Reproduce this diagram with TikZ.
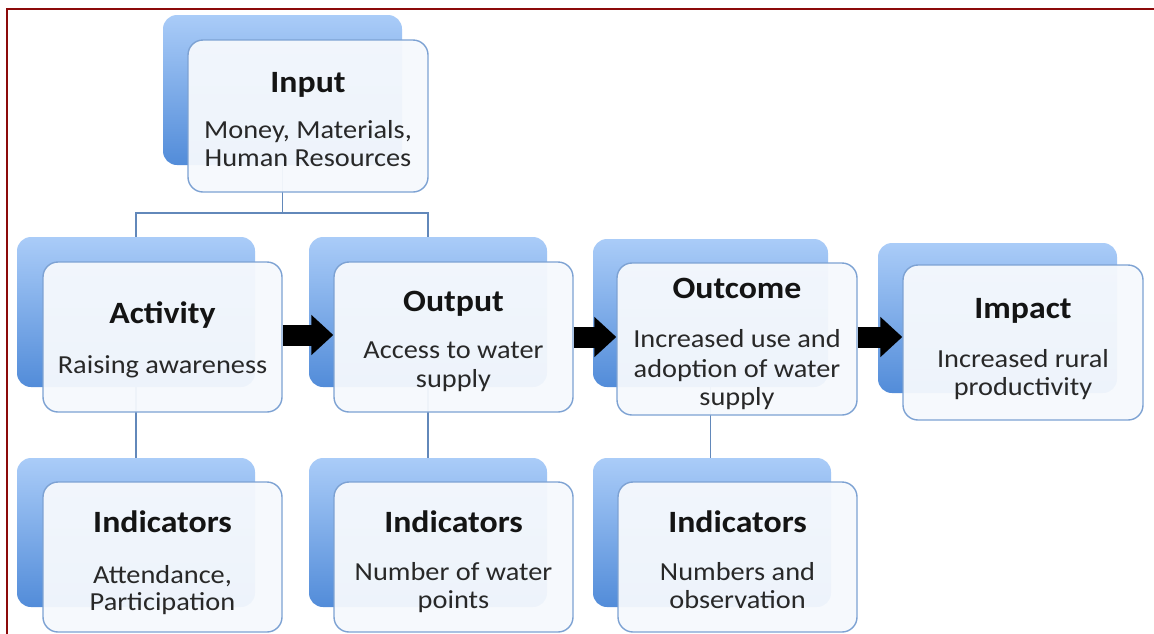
\documentclass[tikz,border=0pt]{standalone}
\usepackage{fontspec}
\setmainfont{Carlito}[FakeStretch=1.09]
\usetikzlibrary{arrows.meta}
\definecolor{frameRed}{RGB}{140,10,10}
\definecolor{backTop}{RGB}{170,204,248}
\definecolor{backBot}{RGB}{82,140,217}
\definecolor{frontFill}{RGB}{246,249,253}
\definecolor{frontLine}{RGB}{125,162,211}
\definecolor{connLine}{RGB}{98,136,186}
\definecolor{bodyText}{RGB}{40,40,40}
\tikzset{
  backbox/.style={rectangle, rounded corners=14pt, inner sep=0pt, draw=none,
    top color=backTop, bottom color=backBot},
  frontbox/.style={rectangle, rounded corners=15pt, inner sep=0pt, draw=frontLine,
    line width=1.4pt, fill=frontFill, fill opacity=0.95},
  conn/.style={draw=connLine, line width=1.5pt},
  bigarrow/.style={draw=black, line width=21pt, -{Triangle[length=22pt,width=39pt]}},
  ttl/.style={anchor=base, inner sep=0pt, font=\fontsize{31}{36}\selectfont\bfseries, text=black!92},
  bdy/.style={anchor=base, inner sep=0pt, font=\fontsize{26}{30}\selectfont, text=bodyText},
  frameline/.style={draw=frameRed, line width=2.6pt}
}
\begin{document}
\begin{tikzpicture}[x=1pt,y=-1pt]
\useasboundingbox (0,0) rectangle (1154,633);
\clip (0,0) rectangle (1154,633);
\fill[white] (0,0) rectangle (1154,633);
% frame
\draw[frameline] (7,660) -- (7,9) -- (1170,9);

% back boxes
\node[backbox, minimum width=239pt, minimum height=150pt] (inB) at (282.5,90) {};
\node[backbox, minimum width=238pt, minimum height=150pt] (actB) at (136,312) {};
\node[backbox, minimum width=238pt, minimum height=150pt] (outB) at (428,312) {};
\node[backbox, minimum width=235pt, minimum height=148pt] (ocB) at (710.5,313) {};
\node[backbox, minimum width=239pt, minimum height=150pt] (imB) at (997.5,318) {};
\node[backbox, minimum width=238pt, minimum height=149pt] (i1B) at (136,532.5) {};
\node[backbox, minimum width=238pt, minimum height=149pt] (i2B) at (428,532.5) {};
\node[backbox, minimum width=238pt, minimum height=149pt] (i3B) at (712,532.5) {};

% connectors
\coordinate (j) at (282.5,213);
\draw[conn] (inB.south) -- (j);
\draw[conn] (actB.north) |- (j) -| (outB.north);
\draw[conn] (actB.south) -- (i1B.north);
\draw[conn] (outB.south) -- (i2B.north);
\draw[conn] (ocB.south) -- (ocB.south |- i3B.north);

% front boxes
\node[frontbox, minimum width=240pt, minimum height=152pt] (inF) at (308,116) {};
\node[frontbox, minimum width=239pt, minimum height=150pt] (actF) at (162.5,337) {};
\node[frontbox, minimum width=239pt, minimum height=150pt] (outF) at (453.5,337) {};
\node[frontbox, minimum width=240pt, minimum height=152pt] (ocF) at (737,339) {};
\node[frontbox, minimum width=240pt, minimum height=155pt] (imF) at (1023,342.5) {};
\node[frontbox, minimum width=239pt, minimum height=150pt] (i1F) at (162.5,557) {};
\node[frontbox, minimum width=239pt, minimum height=150pt] (i2F) at (453.5,557) {};
\node[frontbox, minimum width=239pt, minimum height=150pt] (i3F) at (737.5,557) {};

% arrows
\draw[bigarrow] (actF.east |- 0,335) -- (outF.west |- 0,335);
\draw[bigarrow] (outF.east |- 0,337) -- (ocF.west |- 0,337);
\draw[bigarrow] (ocF.east |- 0,337) -- (imF.west |- 0,337);

% texts
\node[ttl] (inT) at (inF.center |- 0,92) {Input};
\node[bdy] (inL1) at (inF.center |- 0,138) {Money, Materials,};
\node[bdy] (inL2) at (inF.center |- 0,166) {Human Resources};

\node[ttl] (actT) at (actF.center |- 0,323) {Activity};
\node[bdy] (actL1) at (actF.center |- 0,373) {Raising awareness};

\node[ttl] (outT) at (outF.center |- 0,311) {Output};
\node[bdy] (outL1) at (outF.center |- 0,358) {Access to water};
\node[bdy] (outL2) at (outF.center |- 0,387) {supply};

\node[ttl] (ocT) at (ocF.center |- 0,298) {Outcome};
\node[bdy] (ocL1) at (ocF.center |- 0,347) {Increased use and};
\node[bdy] (ocL2) at (ocF.center |- 0,377) {adoption of water};
\node[bdy] (ocL3) at (ocF.center |- 0,405) {supply};

\node[ttl] (imT) at (imF.center |- 0,318) {Impact};
\node[bdy] (imL1) at (imF.center |- 0,367) {Increased rural};
\node[bdy] (imL2) at (imF.center |- 0,395) {productivity};

\node[ttl] (i1T) at (i1F.center |- 0,532) {Indicators};
\node[bdy] (i1L1) at (i1F.center |- 0,583) {Attendance,};
\node[bdy] (i1L2) at (i1F.center |- 0,610) {Participation};

\node[ttl] (i2T) at (i2F.center |- 0,532) {Indicators};
\node[bdy] (i2L1) at (i2F.center |- 0,580) {Number of water};
\node[bdy] (i2L2) at (i2F.center |- 0,608) {points};

\node[ttl] (i3T) at (i3F.center |- 0,532) {Indicators};
\node[bdy] (i3L1) at (i3F.center |- 0,580) {Numbers and};
\node[bdy] (i3L2) at (i3F.center |- 0,608) {observation};
\end{tikzpicture}
\end{document}
